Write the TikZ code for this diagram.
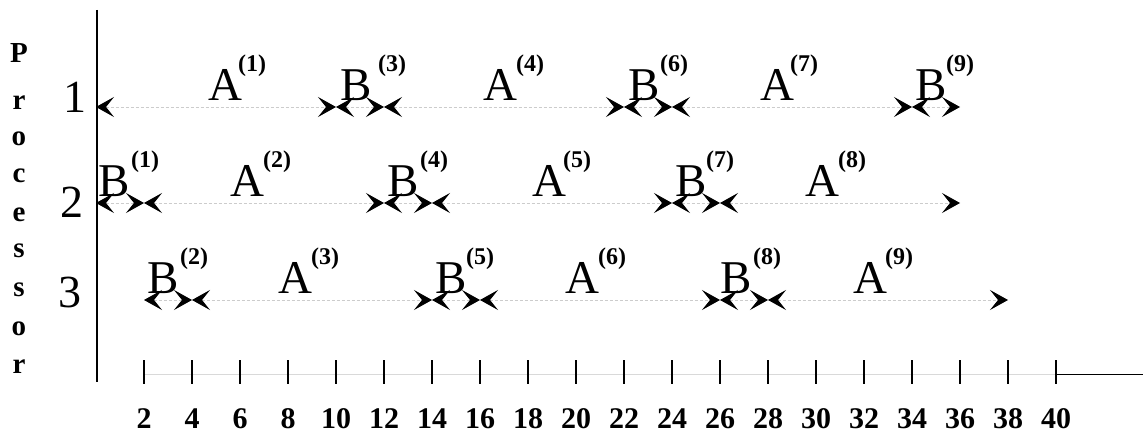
\documentclass[tikz,border=0pt]{standalone}
\usepackage{fontspec}
\setmainfont{Liberation Serif}
\usetikzlibrary{arrows.meta}
\tikzset{
  chev/.tip={Stealth[length=18pt,width=20pt,inset=8pt,color=black,line width=1pt]}
}
\begin{document}
\begin{tikzpicture}[x=1pt,y=-1pt,
  lab/.style={inner sep=0pt, anchor=base west, font=\fontsize{47}{47}\selectfont},
  suplab/.style={inner sep=0pt, anchor=base west, font=\fontsize{24}{24}\selectfont\bfseries},
  rowlab/.style={inner sep=0pt, anchor=base, font=\fontsize{46}{46}\selectfont},
  proclab/.style={inner sep=0pt, anchor=base, font=\fontsize{29}{29}\selectfont\bfseries},
  ticklab/.style={inner sep=0pt, anchor=base, font=\fontsize{30}{30}\selectfont\bfseries},
  interval/.style={gray!40, line width=0.7pt, densely dashed, arrows={chev-chev}},
  axis/.style={black, line width=1.4pt},
  tickmark/.style={black, line width=1.5pt}
]
\useasboundingbox (0,0) rectangle (1143,438);

% vertical axis
\coordinate (axtop) at (97,10);
\coordinate (axbot) at (97,382);
\draw[axis] (axtop) -- (axbot);

% horizontal axis (faint, solid after 40)
\coordinate (h0) at (143,374);
\coordinate (h40) at (1056,374);
\coordinate (hend) at (1143,374);
\draw[gray!30, line width=0.6pt] (h0) -- (h40);
\draw[black, line width=1pt] (h40) -- (hend);

% ticks and tick labels
\foreach \t in {2,4,...,40} {
  \coordinate (tk\t a) at ({96+24*\t},360);
  \coordinate (tk\t b) at ({96+24*\t},384);
  \draw[tickmark] (tk\t a) -- (tk\t b);
  \node[ticklab] (tl\t) at ({96+24*\t},428) {\t};
}

% Processor label
\foreach \ch/\yy [count=\i] in {P/63,r/110,o/146,c/183,e/222,s/258,s/297,o/335,r/373} {
  \node[proclab] (pl\i) at (19,\yy) {\ch};
}

% row numbers
\node[rowlab] (n1) at (75,113) {1};
\node[rowlab] (n2) at (72,218) {2};
\node[rowlab] (n3) at (70,308) {3};

% time coordinates per processor row
\foreach \r/\yy in {1/107,2/203,3/300} {
  \foreach \t in {0,2,...,38} {
    \coordinate (p\r t\t) at ({96+24*\t},\yy);
  }
}

% processor 1
\draw[interval] (p1t0) -- (p1t10);
\draw[interval] (p1t10) -- (p1t12);
\draw[interval] (p1t12) -- (p1t22);
\draw[interval] (p1t22) -- (p1t24);
\draw[interval] (p1t24) -- (p1t34);
\draw[interval] (p1t34) -- (p1t36);
% processor 2
\draw[interval] (p2t0) -- (p2t2);
\draw[interval] (p2t2) -- (p2t12);
\draw[interval] (p2t12) -- (p2t14);
\draw[interval] (p2t14) -- (p2t24);
\draw[interval] (p2t24) -- (p2t26);
\draw[interval] (p2t26) -- (p2t36);
% processor 3
\draw[interval] (p3t2) -- (p3t4);
\draw[interval] (p3t4) -- (p3t14);
\draw[interval] (p3t14) -- (p3t16);
\draw[interval] (p3t16) -- (p3t26);
\draw[interval] (p3t26) -- (p3t28);
\draw[interval] (p3t28) -- (p3t38);

% labels: letter/k/x letter/x sup/baseline
\foreach \L/\k/\xl/\xs/\bl in {
  A/1/208/238/101, B/3/340/378/101, A/4/483/516/101, B/6/628/660/101, A/7/760/790/101, B/9/915/946/101,
  B/1/98/131/197, A/2/230/263/197, B/4/387/420/197, A/5/532/563/197, B/7/675/706/197, A/8/805/838/197,
  B/2/147/180/294, A/3/278/311/294, B/5/435/466/294, A/6/565/598/294, B/8/720/753/294, A/9/853/885/294} {
  \node[lab] (\L\k) at (\xl,\bl) {\L};
  \node[suplab] (\L\k s) at (\xs,{\bl-29}) {(\k)};
}
\end{tikzpicture}
\end{document}
